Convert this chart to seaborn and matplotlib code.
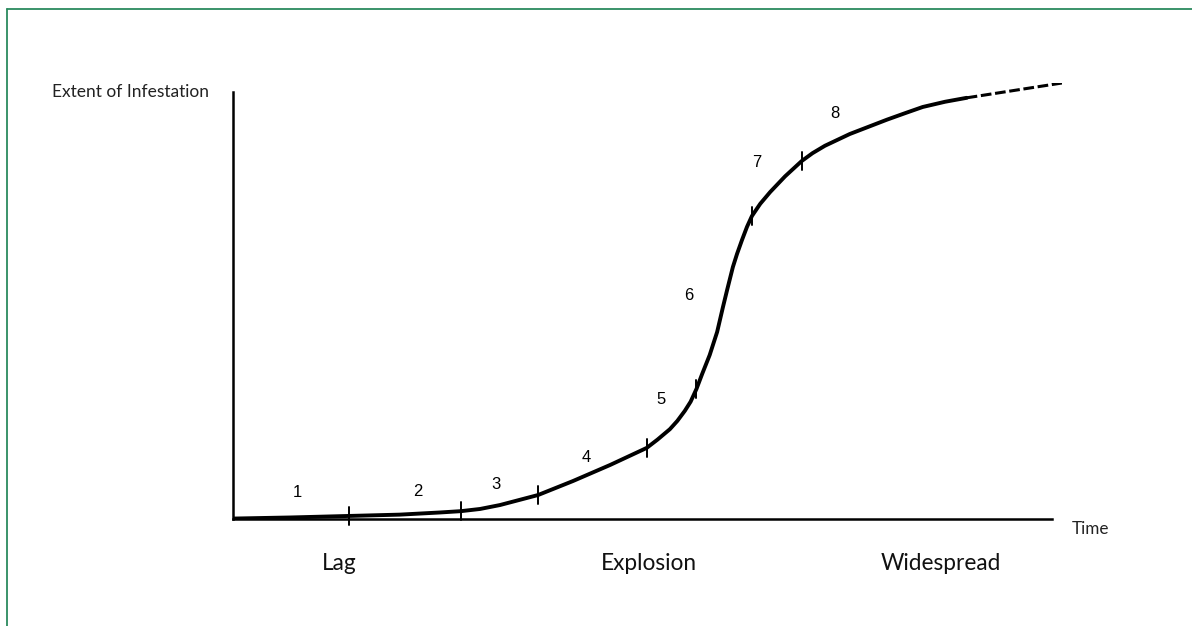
import matplotlib
matplotlib.use("Agg")
import matplotlib.pyplot as plt
import seaborn as sns
import pandas as pd
from matplotlib.lines import Line2D

sns.set_theme(style="white")
plt.rcParams['font.family'] = ['Lato', 'DejaVu Sans']

# Growth curve (time 0-100, extent 0-100)
curve_time = [0, 6.9, 14.0, 20.1, 25.0, 27.5, 29.8, 32.2, 36.8, 41.0, 45.5, 49.9,
              51.2, 52.7, 53.6, 54.5, 55.2, 55.9, 56.6, 57.5, 58.4, 59.1, 59.6,
              60.3, 60.8, 61.4, 62.0, 62.6, 63.6, 64.8, 66.6, 68.6, 69.9, 71.4,
              74.4, 78.9, 81.1, 83.2, 85.9, 88.5]
curve_extent = [0.1, 0.35, 0.7, 1.0, 1.5, 1.8, 2.3, 3.2, 5.5, 8.7, 12.4, 16.3,
                18.2, 20.6, 22.5, 24.8, 26.9, 29.8, 33.3, 37.6, 42.9, 48.6, 52.5,
                57.8, 60.8, 64.0, 67.0, 69.5, 72.3, 75.0, 78.6, 82.1, 83.9, 85.6,
                88.3, 91.6, 93.1, 94.5, 95.7, 96.6]
# projected (dashed) continuation
proj_time = [88.5, 100.0]
proj_extent = [96.6, 100.0]

# stage boundaries on the curve
stage_time = [14.0, 27.5, 36.8, 49.9, 55.9, 62.6, 68.6]
stage_extent = [0.7, 1.8, 5.5, 16.3, 29.8, 69.5, 82.1]

# stage number labels
stage_labels = ["1", "2", "3", "4", "5", "6", "7", "8"]
label_time = [7.8, 22.3, 31.7, 42.6, 51.6, 55.0, 63.2, 72.6]
label_extent = [6.0, 6.4, 7.8, 14.0, 27.5, 51.2, 81.7, 92.9]

phases = ["Lag", "Explosion", "Widespread"]
phase_time = [12.8, 50.2, 85.4]

W, H = 1192, 626
fig = plt.figure(figsize=(W / 100, H / 100), dpi=100)
ax = fig.add_axes([233 / W, (H - 519) / H, (1062 - 233) / W, (519 - 83) / H])
ax.set_xlim(0, 100)
ax.set_ylim(0, 100)
ax.set_facecolor("none")

df = pd.DataFrame({"time": curve_time, "extent": curve_extent})
sns.lineplot(data=df, x="time", y="extent", sort=False, color="black",
             linewidth=2.8, ax=ax, solid_capstyle="round", solid_joinstyle="round")
dfp = pd.DataFrame({"time": proj_time, "extent": proj_extent})
sns.lineplot(data=dfp, x="time", y="extent", sort=False, color="black",
             linewidth=2.2, ax=ax, linestyle=(0, (3.5, 1.2)))

for t, e in zip(stage_time, stage_extent):
    ax.plot([t, t], [e - 2.1, e + 2.1], color="black", lw=1.4, clip_on=False)

for s, t, e in zip(stage_labels, label_time, label_extent):
    ax.text(t, e, s, ha="center", va="center", fontsize=12,
            family="Liberation Sans", color="black")

for p, t in zip(phases, phase_time):
    ax.text(t, -10.1, p, ha="center", va="center", fontsize=16.3,
            color="#111111", clip_on=False)

ax.set_xlabel("")
ax.set_ylabel("")
ax.set_xticks([])
ax.set_yticks([])
for side in ["top", "right"]:
    ax.spines[side].set_visible(False)
ax.spines["left"].set_bounds(0, (519 - 92) / 4.358)
ax.spines["bottom"].set_bounds(0, (1052 - 233) / 8.29)
for side in ["left", "bottom"]:
    ax.spines[side].set_color("black")
    ax.spines[side].set_linewidth(1.8)

fig.text(52 / W, 1 - 92 / H, "Extent of Infestation", ha="left", va="center",
         fontsize=12.5, color="#222222")
fig.text(1072 / W, 1 - 529 / H, "Time", ha="left", va="center",
         fontsize=12.3, color="#222222")

green = "#2b8a5e"
fig.add_artist(Line2D([6.5 / W, 6.5 / W], [0, 1 - 8.5 / H], color=green, lw=1.3,
                      transform=fig.transFigure))
fig.add_artist(Line2D([6.5 / W, 1], [1 - 8.5 / H, 1 - 8.5 / H], color=green, lw=1.3,
                      transform=fig.transFigure))

fig.savefig("out.png", dpi=100, facecolor="white")
